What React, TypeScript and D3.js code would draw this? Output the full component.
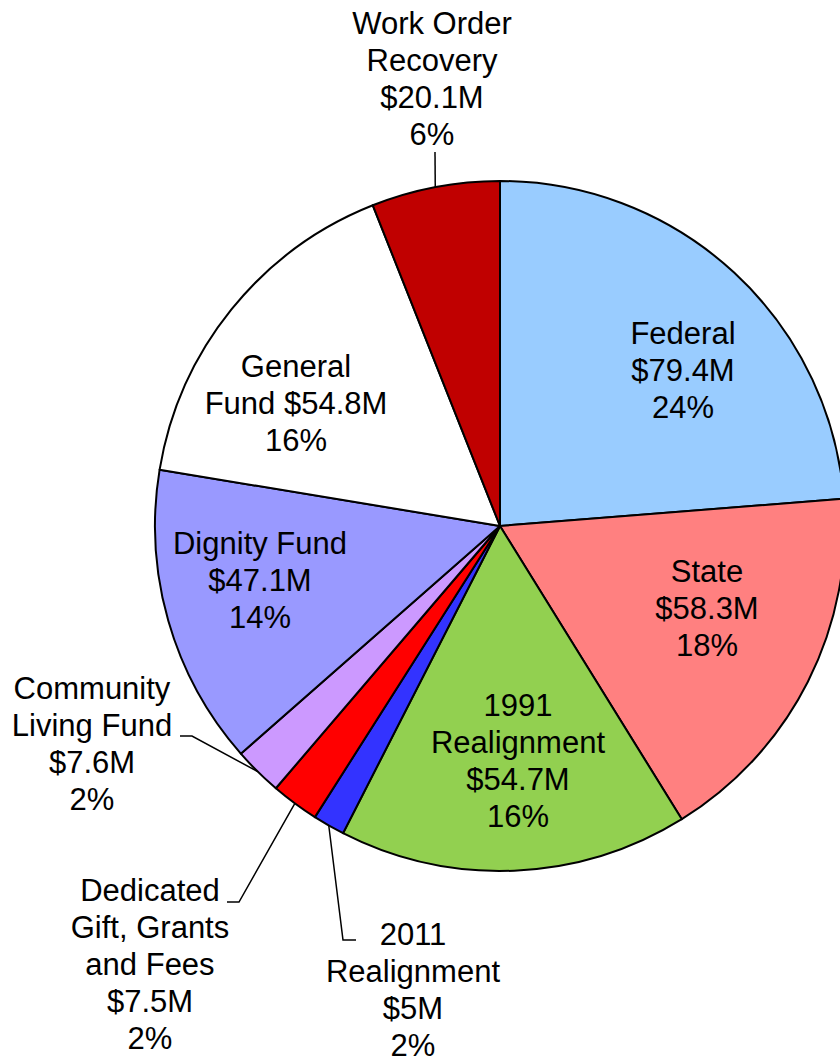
import React, { useEffect, useRef } from 'react';
import * as d3 from 'd3';

const categories = ['Federal', 'State', '1991 Realignment', '2011 Realignment', 'Dedicated Gift, Grants and Fees', 'Community Living Fund', 'Dignity Fund', 'General Fund', 'Work Order Recovery'];
const amounts = [79.4, 58.3, 54.7, 5, 7.5, 7.6, 47.1, 54.8, 20.1];
const colors = ['#99CCFF', '#FF8080', '#92D050', '#3333FF', '#FF0000', '#CC99FF', '#9999FF', '#FFFFFF', '#C00000'];
const labelLines = [
  ['Federal', '$79.4M', '24%'],
  ['State', '$58.3M', '18%'],
  ['1991', 'Realignment', '$54.7M', '16%'],
  ['2011', 'Realignment', '$5M', '2%'],
  ['Dedicated', 'Gift, Grants', 'and Fees', '$7.5M', '2%'],
  ['Community', 'Living Fund', '$7.6M', '2%'],
  ['Dignity Fund', '$47.1M', '14%'],
  ['General', 'Fund $54.8M', '16%'],
  ['Work Order', 'Recovery', '$20.1M', '6%'],
];
// label anchor (center x, first baseline)
const labelPos = [[683, 344], [707, 582], [518, 716], [413, 945], [150, 901], [92, 699], [260, 554], [296, 377], [432, 34]];
// leader line elbows: [elbowX, elbowY, endX] (null = no leader)
const leaders: (number[] | null)[] = [null, null, null, [343, 940, 356], [239, 902, 227], [192, 736, 180], null, null, [435, 152, 435]];

export default function App() {
  const ref = useRef<SVGSVGElement>(null);

  useEffect(() => {
    const width = 840, height = 1062;
    const cx = 500, cy = 526, r = 345;
    const svg = d3.select(ref.current);
    svg.selectAll('*').remove();

    const data = categories.map((c, i) => ({ c, v: amounts[i], i }));
    const pie = d3.pie<any>().value(d => d.v).sort(null);
    const arcs = pie(data);
    const arc = d3.arc<any>().innerRadius(0).outerRadius(r);

    const g = svg.append('g').attr('transform', `translate(${cx},${cy})`);
    g.selectAll('path')
      .data(arcs)
      .join('path')
      .attr('d', arc)
      .attr('fill', d => colors[d.data.i])
      .attr('stroke', '#000')
      .attr('stroke-width', 2)
      .attr('stroke-linejoin', 'round');

    // leader lines
    arcs.forEach(a => {
      const l = leaders[a.data.i];
      if (!l) return;
      const m = (a.startAngle + a.endAngle) / 2;
      const sx = cx + r * Math.sin(m), sy = cy - r * Math.cos(m);
      const pts = [[sx, sy], [l[0], l[1]], [l[2], l[1]]];
      svg.append('path')
        .attr('d', d3.line()(pts as [number, number][]))
        .attr('fill', 'none')
        .attr('stroke', '#000')
        .attr('stroke-width', 1.5);
    });

    // labels
    labelLines.forEach((lines, i) => {
      const t = svg.append('text')
        .attr('text-anchor', 'middle')
        .attr('font-family', '"Liberation Sans", Arial, sans-serif')
        .attr('font-size', 31)
        .attr('fill', '#000');
      lines.forEach((s, k) => {
        t.append('tspan')
          .attr('x', labelPos[i][0])
          .attr('y', labelPos[i][1] + k * 37)
          .text(s);
      });
    });

    svg.attr('width', width).attr('height', height);
  }, []);

  return (
    <div style={{ position: 'absolute', left: 0, top: 0, background: '#fff' }}>
      <svg ref={ref} style={{ display: 'block' }} />
    </div>
  );
}
